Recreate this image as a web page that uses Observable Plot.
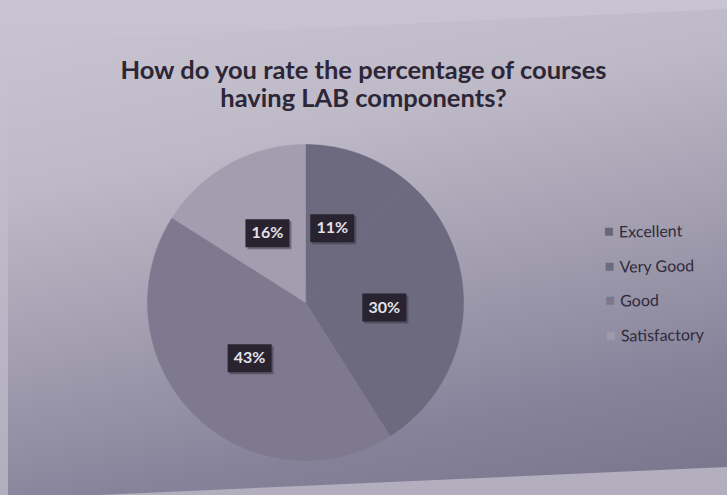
<!DOCTYPE html>
<html><head><meta charset="utf-8">
<script src="https://cdn.jsdelivr.net/npm/d3@7"></script>
<script src="https://cdn.jsdelivr.net/npm/@observablehq/plot@0.6"></script>
<style>
html,body{margin:0;padding:0;}
body{width:727px;height:495px;overflow:hidden;background:#bdb9c8;}
#wrap{position:relative;width:727px;height:495px;background:linear-gradient(180deg,#c8c4d2 0%,#b2aebe 100%);overflow:hidden;}
#panel{position:absolute;left:0;top:0;width:727px;height:495px;
  clip-path:polygon(8px 42px,727px 9px,727px 467px,8px 499px);
  background:linear-gradient(168deg,#c9c5d2 0%,#bdb9c7 30%,#a09cae 58%,#86829a 80%,#78748b 100%);}
.tl{position:absolute;left:0;width:727px;text-align:center;white-space:nowrap;
  font-family:Lato,"Open Sans",sans-serif;font-weight:bold;font-size:25.5px;line-height:26px;color:#2c2636;}
#chart{position:absolute;left:147px;top:144px;}
#legend{position:absolute;left:606px;top:221px;transform:rotate(-1deg);
  font-family:Lato,"Open Sans",sans-serif;font-size:16px;color:#2f2a3a;}
#legend .row{height:34.5px;display:flex;align-items:flex-start;}
#legend .sw{width:8px;height:8px;margin-top:6px;margin-right:6px;}
</style>
</head><body>
<div id="wrap">
  <div id="panel"></div>
  <div class="tl" style="top:56px">How do you rate the percentage of courses</div>
  <div class="tl" style="top:84px">having LAB components?</div>
  <div id="chart"></div>
  <div id="legend"></div>
</div>
<script>
const categories = ["Excellent", "Very Good", "Good", "Satisfactory"];
const percents = [11, 30, 43, 16];
const labels = ["11%", "30%", "43%", "16%"];
const colors = ["#6d697e", "#6d697e", "#7e798f", "#a29eaf"];
const legendColors = ["#6a6678", "#6f6b7e", "#7d788c", "#9e9aab"];

const arcs = d3.pie().sort(null).value(d => d)(percents);
const deg = r => r * 180 / Math.PI;
// azimuthal projection centred on the pole: clockwise angle θ from top -> longitude 180 - θ
const slices = arcs.map((a, i) => {
  const t0 = deg(a.startAngle), t1 = deg(a.endAngle);
  const ring = [[0, 90]];
  const n = Math.max(2, Math.ceil(t1 - t0));
  for (let k = 0; k <= n; k++) ring.push([180 - (t0 + (t1 - t0) * k / n), 0]);
  ring.push([0, 90]);
  let f = {type: "Feature", properties: {name: categories[i], color: colors[i]}, geometry: {type: "Polygon", coordinates: [ring]}};
  if (d3.geoArea(f) > 2 * Math.PI) f.geometry.coordinates = [ring.slice().reverse()];
  return f;
});
const labelData = arcs.map((a, i) => ({label: labels[i], lon: 180 - deg((a.startAngle + a.endAngle) / 2), lat: 45}));
const pieFC = {type: "FeatureCollection", features: slices};

const box = {draw(ctx) { ctx.rect(-22, -14, 44, 28); }};

const plot = Plot.plot({
  width: 316, height: 316, margin: 0,
  style: {background: "transparent", overflow: "visible"},
  projection: {type: "azimuthal-equidistant", rotate: [0, -90], domain: pieFC},
  marks: [
    Plot.geo(pieFC, {fill: d => d.properties.color, stroke: d => d.properties.color, strokeWidth: 0.5}),
    Plot.dot(labelData, {x: "lon", y: "lat", symbol: box, r: 5, fill: "#3a3546", stroke: "none", dx: 2, dy: 2, fillOpacity: 0.5}),
    Plot.dot(labelData, {x: "lon", y: "lat", symbol: box, r: 5, fill: "#28232f", stroke: "none"}),
    Plot.text(labelData, {x: "lon", y: "lat", text: "label", fill: "#e4e1ea", fontSize: 16, fontWeight: "bold", fontFamily: "Lato, 'Open Sans', sans-serif"})
  ]
});
document.getElementById("chart").appendChild(plot);

const leg = document.getElementById("legend");
categories.forEach((c, i) => {
  const row = document.createElement("div");
  row.className = "row";
  const sw = document.createElement("div");
  sw.className = "sw";
  sw.style.background = legendColors[i];
  const tx = document.createElement("span");
  tx.textContent = c;
  row.appendChild(sw); row.appendChild(tx);
  leg.appendChild(row);
});
</script>
</body></html>
